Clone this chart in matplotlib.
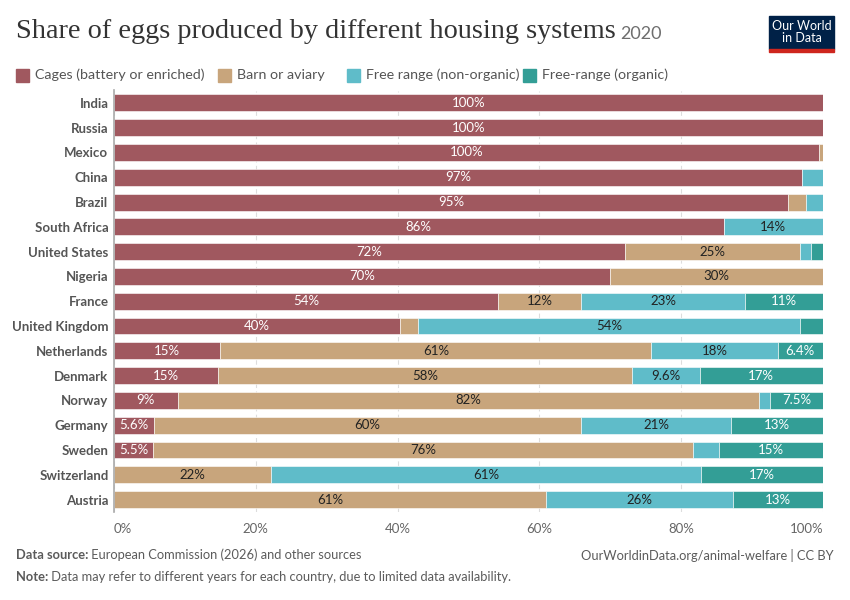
import matplotlib.pyplot as plt
from matplotlib.patches import Rectangle

countries = ["India", "Russia", "Mexico", "China", "Brazil", "South Africa",
             "United States", "Nigeria", "France", "United Kingdom", "Netherlands",
             "Denmark", "Norway", "Germany", "Sweden", "Switzerland", "Austria"]

cages = [100.0, 100.0, 99.5, 97.0, 95.1, 86.0, 72.1, 70.0, 54.2, 40.3, 15.0,
         14.7, 9.0, 5.6, 5.5, 0.0, 0.0]
barn = [0.0, 0.0, 0.5, 0.0, 2.5, 0.0, 24.6, 30.0, 11.7, 2.6, 60.8,
        58.3, 82.0, 60.3, 76.2, 22.1, 61.0]
free_range = [0.0, 0.0, 0.0, 3.0, 2.4, 14.0, 1.6, 0.0, 23.1, 53.8, 17.8,
              9.6, 1.5, 21.1, 3.6, 60.7, 26.3]
organic = [0.0, 0.0, 0.0, 0.0, 0.0, 0.0, 1.7, 0.0, 11.0, 3.3, 6.4,
           17.4, 7.5, 13.0, 14.7, 17.2, 12.7]

series_names = ["Cages (battery or enriched)", "Barn or aviary",
                "Free range (non-organic)", "Free-range (organic)"]
series_colors = ["#a0585f", "#c8a57c", "#5fbcc9", "#339e96"]
label_colors = ["white", "#222222", "#222222", "white"]

x_ticks = [0, 20, 40, 60, 80, 100]


def fmt(v):
    if v >= 9.95:
        return f"{round(v):.0f}%"
    return f"{v:.1f}".rstrip("0").rstrip(".") + "%"


plt.rcParams["font.family"] = ["Lato", "DejaVu Sans"]

fig = plt.figure(figsize=(8.5, 6), dpi=100)
ax = fig.add_axes([114 / 850, 1 - 512 / 600, 709 / 850, 421.5 / 600])

y = list(range(len(countries)))
left = [0.0] * len(countries)
for values, name, color, lcolor in zip([cages, barn, free_range, organic],
                                       series_names, series_colors, label_colors):
    ax.barh(y, values, left=left, height=0.68, color=color,
            edgecolor="white", linewidth=0.4, zorder=2)
    for i, v in enumerate(values):
        if v >= 5:
            ax.text(left[i] + v / 2, i, fmt(v), ha="center", va="center",
                    fontsize=9.5, color=lcolor, zorder=3)
    left = [a + b for a, b in zip(left, values)]

ax.set_xlim(0, 100)
ax.set_ylim(len(countries) - 0.5, -0.5)
ax.set_yticks(y)
ax.set_yticklabels(countries, fontsize=9.5, fontweight="bold", color="#555555")
ax.set_xticks(x_ticks)
ax.set_xticklabels([f"{t}%" for t in x_ticks], fontsize=9.5, color="#666666")
for lab, t in zip(ax.get_xticklabels(), x_ticks):
    if t == 0:
        lab.set_ha("left")
    elif t == 100:
        lab.set_ha("right")
ax.tick_params(axis="y", length=0, pad=4)
ax.tick_params(axis="x", length=0, pad=8)
ax.grid(axis="x", color="#dddddd", linestyle=(0, (4, 3)), linewidth=0.8, zorder=0)
for s in ["top", "right", "bottom"]:
    ax.spines[s].set_visible(False)
ax.spines["left"].set_color("#aaaaaa")
ax.spines["left"].set_linewidth(1.2)
ax.spines["left"].set_zorder(4)

# title
fig.text(16 / 850, 1 - 32 / 600, "Share of eggs produced by different housing systems",
         family=["Liberation Serif", "DejaVu Serif"], fontsize=20.3, color="#333333",
         va="center", ha="left")
fig.text(620 / 850, 1 - 34 / 600, "2020", fontsize=13, color="#6e6e6e",
         va="center", ha="left")

# logo
fig.patches.append(Rectangle((769 / 850, 1 - 49 / 600), 65 / 850, 33 / 600,
                             transform=fig.transFigure, color="#002147", zorder=5))
fig.patches.append(Rectangle((769 / 850, 1 - 52 / 600), 65 / 850, 3 / 600,
                             transform=fig.transFigure, color="#ce261e", zorder=5))
fig.text(801.5 / 850, 1 - 32.5 / 600, "Our World\nin Data", color="white",
         fontsize=9, ha="center", va="center", linespacing=1.0, zorder=6)

# legend
legend_x = [16, 218, 347, 523]
for lx, name, color in zip(legend_x, series_names, series_colors):
    fig.patches.append(Rectangle((lx / 850, 1 - 81.5 / 600), 13 / 850, 13 / 600,
                                 transform=fig.transFigure, color=color))
    fig.text((lx + 19) / 850, 1 - 75 / 600, name, fontsize=10.25, color="#555555",
             va="center", ha="left")

# footer
fig.canvas.draw()
renderer = fig.canvas.get_renderer()
for yy, head, body in [(555, "Data source:", " European Commission (2026) and other sources"),
                       (577, "Note:", " Data may refer to different years for each country, due to limited data availability.")]:
    t = fig.text(16 / 850, 1 - yy / 600, head, fontsize=9.3, fontweight="bold",
                 color="#5b5b5b", va="center", ha="left")
    w = t.get_window_extent(renderer).width
    fig.text((16 + w) / 850, 1 - yy / 600, body, fontsize=9.3, color="#5b5b5b",
             va="center", ha="left")
fig.text(834 / 850, 1 - 555 / 600, "OurWorldinData.org/animal-welfare | CC BY",
         fontsize=9.3, color="#5b5b5b", va="center", ha="right")

fig.savefig("out.png", dpi=100)
